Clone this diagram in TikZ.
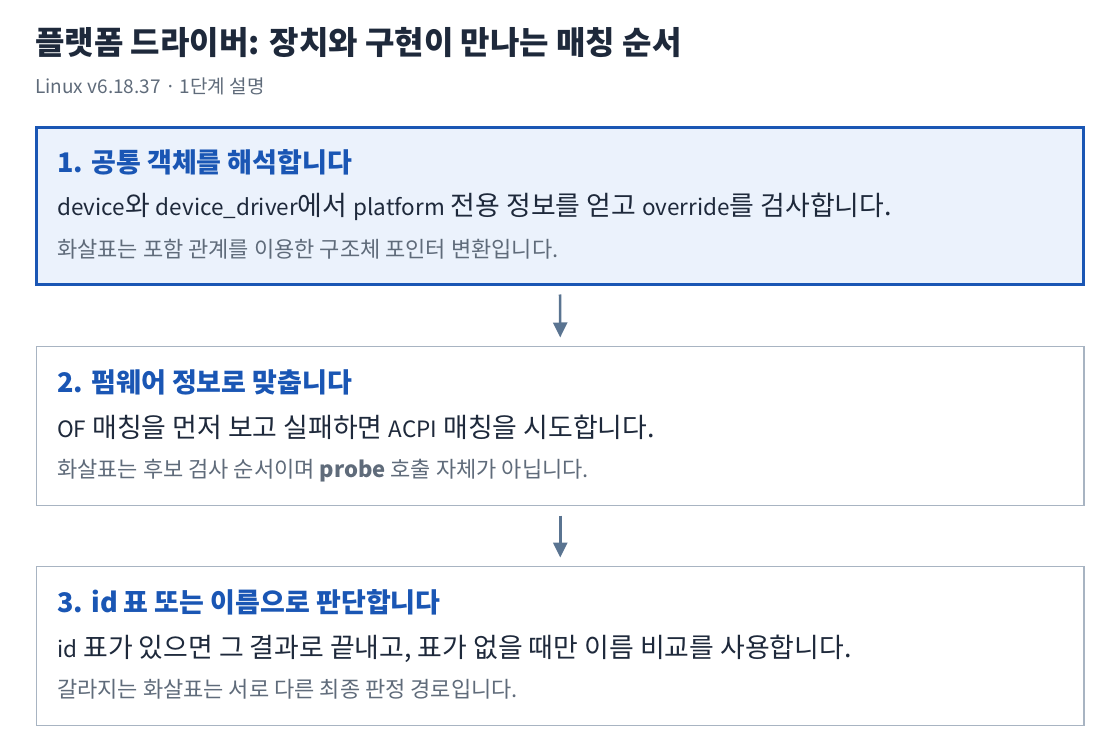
\documentclass[tikz,border=0pt]{standalone}
\usepackage{fontspec}
\setmainfont{Noto Sans CJK KR}
\usepackage{xcolor}
\usetikzlibrary{arrows.meta}

\definecolor{inkdark}{HTML}{1E293B}
\definecolor{inkgray}{HTML}{5F6B7A}
\definecolor{stepblue}{HTML}{1A56B4}
\definecolor{stepfill}{HTML}{EBF2FC}
\definecolor{edgegray}{HTML}{A8B4C2}
\definecolor{flowgray}{HTML}{5A7491}

% latin words in the body lines run a little smaller than the hangul
\newcommand{\eng}[1]{{\fontsize{22.5}{27}\selectfont#1}}

\begin{document}
\begin{tikzpicture}[x=1pt,y=-1pt,
    stage/.style={draw=edgegray,line width=1.2pt,fill=white,rectangle,
      inner sep=0pt,outer sep=0pt,anchor=north west,
      minimum width=1047.5pt,minimum height=159pt},
    active/.style={stage,draw=stepblue,fill=stepfill,line width=3pt,
      minimum width=1047pt,minimum height=157pt},
    heading/.style={anchor=base west,inner sep=0pt,text=stepblue,
      font=\fontsize{27}{31}\selectfont\bfseries},
    bodytext/.style={anchor=base west,inner sep=0pt,text=inkdark,
      font=\fontsize{26.9}{31}\selectfont},
    notetext/.style={anchor=base west,inner sep=0pt,text=inkgray,
      font=\fontsize{22}{26}\selectfont},
    flow/.style={draw=flowgray,line width=2.6pt,
      -{Triangle[length=15pt,width=14pt]},shorten <=10pt,shorten >=9pt}]
  \useasboundingbox (0,0) rectangle (1120,754);

  \node (title) [anchor=base west,inner sep=0pt,text=inkdark,
    font=\fontsize{32}{38}\selectfont\bfseries] at (35,55)
    {플랫폼 드라이버: 장치와 구현이 만나는 매칭 순서};
  \node (sub) [anchor=base west,inner sep=0pt,text=inkgray,
    font=\fontsize{19}{23}\selectfont] at (35,94)
    {Linux v6.18.37 · 1단계 설명};

  \node (box1) [active] at (36.5,127.5) {};
  \node (box2) [stage] at (36.5,346.5) {};
  \node (box3) [stage] at (36.5,566.5) {};

  \path (box1.north west) ++(20.5,45)
    node (h1) [heading] {1. 공통 객체를 해석합니다} ++(0,43.5)
    node (b1) [bodytext] {\eng{device}와 \eng{device\_driver}에서 \eng{platform} 전용 정보를 얻고 \eng{override}를 검사합니다.} ++(0,41.5)
    node (n1) [notetext] {화살표는 포함 관계를 이용한 구조체 포인터 변환입니다.};
  \path (box2.north west) ++(20.5,46)
    node (h2) [heading] {2. 펌웨어 정보로 맞춥니다} ++(0,44.5)
    node (b2) [bodytext] {\eng{OF} 매칭을 먼저 보고 실패하면 \eng{ACPI} 매칭을 시도합니다.} ++(0,40.5)
    node (n2) [notetext] {화살표는 후보 검사 순서이며 {\bfseries probe} 호출 자체가 아닙니다.};
  \path (box3.north west) ++(20.5,46)
    node (h3) [heading] {3. id 표 또는 이름으로 판단합니다} ++(0,44.5)
    node (b3) [bodytext] {\eng{id} 표가 있으면 그 결과로 끝내고, 표가 없을 때만 이름 비교를 사용합니다.} ++(0,40.5)
    node (n3) [notetext] {갈라지는 화살표는 서로 다른 최종 판정 경로입니다.};

  \draw[flow] (box1.south) -- (box2.north);
  \draw[flow] (box2.south) -- (box3.north);
\end{tikzpicture}
\end{document}
